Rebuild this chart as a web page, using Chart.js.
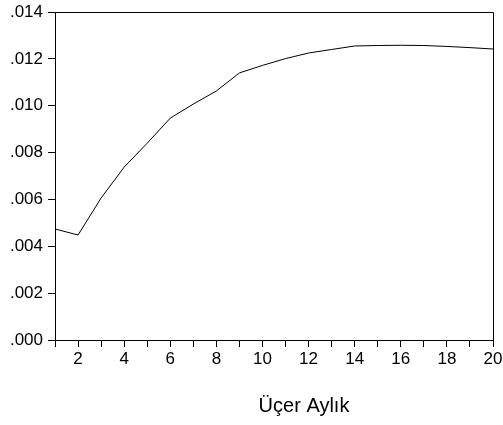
<!DOCTYPE html>
<html>
<head>
<meta charset="utf-8">
<script src="https://cdn.jsdelivr.net/npm/chart.js@4"></script>
<style>
html,body{margin:0;padding:0;background:#fff;}
#wrap{width:503px;height:425px;}
</style>
</head>
<body>
<div id="wrap"><canvas id="c" width="503" height="425"></canvas></div>
<script>
const periods = [1,2,3,4,5,6,7,8,9,10,11,12,13,14,15,16,17,18,19,20];
const response = [0.00474,0.00448,0.00606,0.00738,0.00840,0.00947,0.01007,0.01063,0.01140,0.01172,0.01201,0.01225,0.01240,0.01255,0.01257,0.01258,0.01257,0.01253,0.01248,0.01242];
const yTicks = [0,0.002,0.004,0.006,0.008,0.010,0.012,0.014];
const xTitle = 'Üçer Aylık';

const FONT = 'Liberation Sans, Arial, sans-serif';

const framePlugin = {
  id: 'frame',
  afterDatasetsDraw(chart) {
    const {ctx, chartArea: a} = chart;
    ctx.save();
    ctx.strokeStyle = '#000';
    ctx.lineWidth = 1;
    ctx.beginPath();
    ctx.moveTo(a.left, a.top + 0.5);
    ctx.lineTo(a.right + 0.5, a.top + 0.5);
    ctx.lineTo(a.right + 0.5, a.bottom);
    ctx.stroke();
    ctx.restore();
  },
  afterDraw(chart) {
    const {ctx, chartArea: a} = chart;
    ctx.save();
    ctx.fillStyle = '#000';
    ctx.font = '20px ' + FONT;
    ctx.textAlign = 'center';
    ctx.textBaseline = 'alphabetic';
    ctx.fillText(xTitle, (a.left + a.right) / 2 + 30, 412);
    ctx.restore();
  }
};

new Chart(document.getElementById('c'), {
  type: 'line',
  data: {
    datasets: [{
      data: periods.map((p, i) => ({x: p, y: response[i]})),
      borderColor: '#000',
      borderWidth: 1,
      pointRadius: 0,
      tension: 0,
      fill: false
    }]
  },
  options: {
    responsive: false,
    animation: false,
    devicePixelRatio: 1,
    layout: {padding: {top: 12, right: 10, left: 0, bottom: 0}},
    plugins: {legend: {display: false}, tooltip: {enabled: false}},
    scales: {
      x: {
        type: 'linear',
        min: 1, max: 20,
        afterFit(s) { s.height = 85; s.paddingLeft = 0; s.paddingRight = 0; },
        afterBuildTicks(s) { s.ticks = periods.map(v => ({value: v})); },
        ticks: {
          autoSkip: false, maxRotation: 0, color: '#000', padding: 2,
          font: {family: FONT, size: 17},
          callback: v => (v % 2 === 0 ? String(v) : '')
        },
        grid: {drawOnChartArea: false, drawTicks: true, tickLength: 7, color: '#000'},
        border: {display: true, color: '#000', dash: [4, 3], width: 1}
      },
      y: {
        min: 0, max: 0.014,
        afterFit(s) { s.width = 55; s.paddingTop = 0; s.paddingBottom = 0; },
        afterBuildTicks(s) { s.ticks = yTicks.map(v => ({value: v})); },
        ticks: {
          color: '#000', padding: 5,
          font: {family: FONT, size: 17},
          callback: v => v.toFixed(3).replace(/^0/, '')
        },
        grid: {drawOnChartArea: false, drawTicks: true, tickLength: 7, color: '#000'},
        border: {display: true, color: '#000', width: 1}
      }
    }
  },
  plugins: [framePlugin]
});
</script>
</body>
</html>
